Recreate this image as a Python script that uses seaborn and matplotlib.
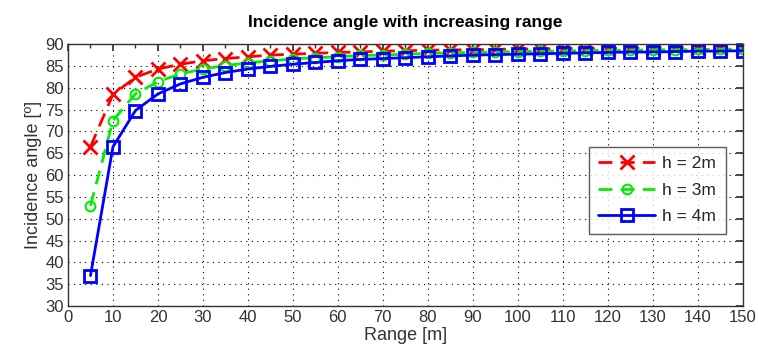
import numpy as np
import pandas as pd
import matplotlib
matplotlib.use("Agg")
import matplotlib.pyplot as plt
import seaborn as sns
from matplotlib.ticker import MultipleLocator

sns.set_theme(style="white")
plt.rcParams['font.family'] = ['Liberation Sans', 'DejaVu Sans']

ranges = list(range(5, 151, 5))
h2 = [66.5, 78.5, 82.4, 84.3, 85.4, 86.2, 86.7, 87.1, 87.5, 87.7, 87.9, 88.1, 88.2, 88.4, 88.5,
      88.6, 88.7, 88.7, 88.8, 88.9, 88.9, 89.0, 89.0, 89.0, 89.1, 89.1, 89.2, 89.2, 89.2, 89.2]
h3 = [53.0, 72.5, 78.6, 81.4, 83.2, 84.3, 85.1, 85.7, 86.2, 86.6, 86.9, 87.1, 87.4, 87.5, 87.7,
      87.9, 88.0, 88.1, 88.2, 88.3, 88.4, 88.4, 88.5, 88.6, 88.6, 88.7, 88.7, 88.8, 88.8, 88.9]
h4 = [37.0, 66.5, 74.8, 78.6, 80.9, 82.4, 83.5, 84.3, 84.9, 85.4, 85.8, 86.2, 86.5, 86.7, 86.9,
      87.1, 87.3, 87.5, 87.6, 87.7, 87.8, 87.9, 88.0, 88.1, 88.2, 88.2, 88.3, 88.4, 88.4, 88.5]
labels = ["h = 2m", "h = 3m", "h = 4m"]

fig = plt.figure(figsize=(7.58, 3.56), dpi=100)
ax = fig.add_axes([0.0897, 0.140, 0.890, 0.736])

styles = [
    (h2, "#ff0000", (5, 3), "x", 10, 2.0),
    (h3, "#00ee00", (5, 3), "o", 7, 2.0),
    (h4, "#0000ff", "", "s", 9, 2.0),
]
for (vals, col, dash, mk, ms, lw), lab in zip(styles, labels):
    df = pd.DataFrame({"Range": ranges, "Angle": vals})
    sns.lineplot(data=df, x="Range", y="Angle", ax=ax, color=col, marker=mk,
                 markersize=ms, linewidth=lw, label=lab,
                 markerfacecolor="none" if mk != "x" else col,
                 markeredgecolor=col, markeredgewidth=2.0 if mk != "o" else 1.5)
    if dash:
        ax.lines[-1].set_dashes(dash)

ax.set_xlim(0, 150)
ax.set_ylim(30, 90)
ax.xaxis.set_major_locator(MultipleLocator(10))
ax.xaxis.set_minor_locator(MultipleLocator(5))
ax.yaxis.set_major_locator(MultipleLocator(5))
ax.tick_params(which="both", direction="in", top=True, right=True, labelsize=12,
               colors="#333333", pad=3)
ax.tick_params(which="major", length=5)
ax.tick_params(which="minor", length=3)
ax.grid(True, which="major", color="black", linestyle=(0, (1, 4)), linewidth=0.8)
for s in ax.spines.values():
    s.set_color("#333333")
    s.set_linewidth(1.0)

ax.set_xlabel("Range [m]", fontsize=13, color="#333333", labelpad=1)
ax.set_ylabel("Incidence angle [º]", fontsize=13, color="#333333", labelpad=2)
ax.set_title("Incidence angle with increasing range", fontsize=12.5, fontweight="bold",
             color="black", pad=12)

leg = ax.legend(loc="center right", bbox_to_anchor=(0.988, 0.443), fontsize=12.5,
                frameon=True, fancybox=False, handlelength=3.3, borderpad=0.55,
                labelspacing=0.65, handletextpad=0.4)
leg.get_frame().set_edgecolor("#333333")
leg.get_frame().set_linewidth(1.0)

fig.savefig("out.png", dpi=100)
